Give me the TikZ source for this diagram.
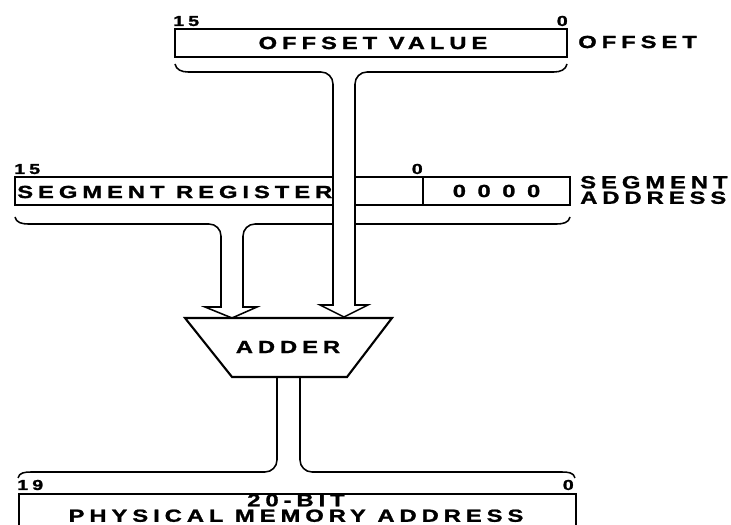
\documentclass[tikz,border=0pt]{standalone}
\usepackage{fontspec}
\usepackage{graphicx}
\usetikzlibrary{calc}
\newfontfamily\regfont{Liberation Sans}[LetterSpace=21,FakeBold=1.2]
\newcommand{\pxu}{0.025cm}
\newcommand{\wide}[1]{\scalebox{1.35}[1]{#1}}

\begin{document}
\begin{tikzpicture}[x=0.025cm, y=0.025cm,
    reg/.style={draw, line width=1.5pt, minimum height=28*\pxu, inner sep=0pt},
    lbl/.style={font=\regfont\bfseries\fontsize{12.5}{11}\selectfont, inner sep=0pt},
    bitno/.style={font=\regfont\bfseries\fontsize{10.3}{10}\selectfont, inner sep=0pt},
    bus/.style={line width=1.1pt}
  ]
    \clip (0,0) rectangle (731,525);

    % offset register
    \node[reg, minimum width=392*\pxu] (offset) at (371,482) {};
    \node[lbl] (offval) at (373,482) {\wide{OFFSET VALUE}};
    \node[bitno, anchor=base west] (off15) at (173,499) {\wide{15}};
    \node[bitno, anchor=base east] (off0) at (568,499) {\wide{0}};
    \node[lbl, anchor=west] (offname) at (578,483) {\wide{OFFSET}};

    % segment register
    \node[reg, minimum width=555*\pxu] (segment) at (292.5,334) {};
    \node[reg, lbl, minimum width=147*\pxu, anchor=east] (zeros) at (segment.east) {\wide{0 0 0 0}};
    \node[lbl, anchor=west] (segreg) at (17,333) {\wide{SEGMENT REGISTER}};
    \node[bitno, anchor=base west] (seg15) at (14,351) {\wide{15}};
    \node[bitno, anchor=base east] (seg0) at (423,351) {\wide{0}};
    \node[lbl, anchor=west, align=left] (segname) at (580,335) {\wide{SEGMENT}\\\wide{ADDRESS}};

    % adder
    \draw[line width=1.5pt] (185,207) -- (392,207) -- (347,148) -- (232,148) -- cycle;
    \node[lbl] (adder) at (288,178) {\wide{ADDER}};

    % physical address
    \node[reg, minimum width=557*\pxu, minimum height=60*\pxu, anchor=north west] (phys) at (18,32) {};
    \node[lbl, align=center] (physname) at (296,17) {\wide{20-BIT}\\\wide{PHYSICAL MEMORY ADDRESS}};
    \node[bitno, anchor=base west] (phys19) at (17,35) {\wide{19}};
    \node[bitno, anchor=base east] (phys0) at (574,35) {\wide{0}};

    % segment bus
    \draw[bus] (15,308) to[out=-80,in=180] (28,301) -- (209,301) to[out=0,in=90] (221,289)
      -- (221,218) -- (205,218) -- (232,207) -- (257,218) -- (243,218)
      -- (243,289) to[out=90,in=180] (255,301) -- (557,301) to[out=0,in=-100] (570,308);

    % offset bus, over the segment register
    \fill[white] (333,441) -- (333,220) -- (320,220) -- (344,208) -- (368,220) -- (355,220) -- (355,441) -- cycle;
    \draw[bus] (175,461) to[out=-80,in=180] (188,453) -- (321,453) to[out=0,in=90] (333,441)
      -- (333,220) -- (320,220) -- (344,208) -- (368,220) -- (355,220)
      -- (355,441) to[out=90,in=180] (367,453) -- (554,453) to[out=0,in=-100] (567,461);

    % output bus
    \draw[bus] (18,47) to[out=80,in=180] (31,53) -- (265,53) to[out=0,in=-90] (277,65) -- (277,148);
    \draw[bus] (300,148) -- (300,65) to[out=-90,in=180] (312,53) -- (562,53) to[out=0,in=100] (575,47);
\end{tikzpicture}
\end{document}
